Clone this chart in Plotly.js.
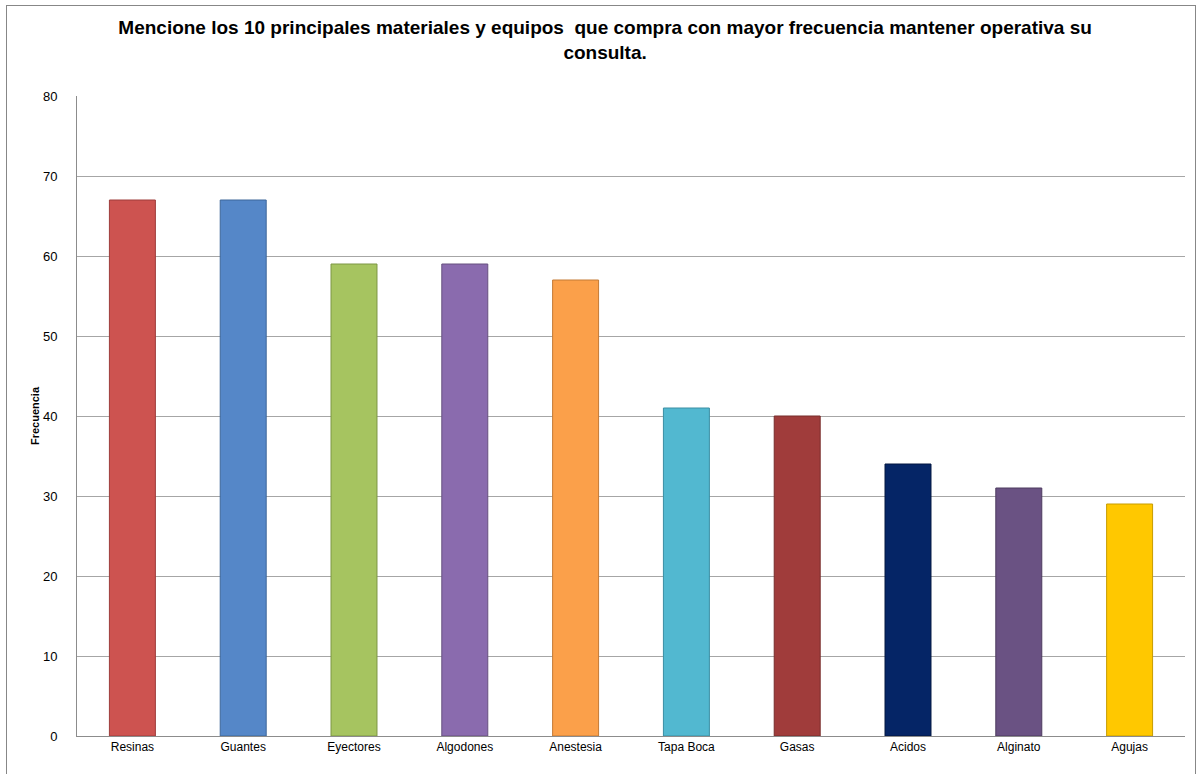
<!DOCTYPE html>
<html><head><meta charset="utf-8">
<script src="https://cdn.plot.ly/plotly-3.0.1.min.js"></script>
<style>
html,body{margin:0;padding:0;background:#fff;overflow:hidden;}
#wrap{position:relative;width:1203px;height:774px;}
#chart{width:1203px;height:774px;}
#frame{position:absolute;left:6px;top:5px;width:1190px;height:800px;border:1px solid #878787;pointer-events:none;box-sizing:border-box;}
</style>
</head><body><div id="wrap"><div id="chart"></div><div id="frame"></div></div>
<script>
const categories = ["Resinas","Guantes","Eyectores","Algodones","Anestesia","Tapa Boca","Gasas","Acidos","Alginato","Agujas"];
const values = [67,67,59,59,57,41,40,34,31,29];
const barColors = ["#CD5350","#5587C8","#A6C460","#8A6BAE","#FBA04A","#52B8D0","#A03C3B","#052566","#6A5283","#FFC800"];
const edgeColors = ["#9E3D3B","#3D6699","#7D9645","#66507F","#C47A35","#3A8EA3","#772C2B","#021640","#4D3B5F","#C79C00"];
const yTicks = [0,10,20,30,40,50,60,70,80];

const trace = {
  type: "bar",
  x: categories,
  y: values,
  marker: {color: barColors, line: {color: edgeColors, width: 1}},
  hoverinfo: "x+y"
};

const L = 77, R = 18, T = 96, B = 38, W = 1203, H = 774;

const layout = {
  width: W, height: H,
  margin: {l: L, r: R, t: T, b: B},
  paper_bgcolor: "#fff", plot_bgcolor: "#fff",
  font: {family: "Liberation Sans, Arial, sans-serif", size: 12, color: "#000"},
  title: {
    text: "<b>Mencione los 10 principales materiales y equipos  que compra con mayor frecuencia mantener operativa su<br>consulta.</b>",
    font: {family: "Liberation Sans, Arial, sans-serif", size: 19, color: "#000"},
    x: 0.503, xanchor: "center", y: 0.956, yanchor: "top"
  },
  bargap: 0.585,
  showlegend: false,
  xaxis: {
    type: "category",
    showgrid: false,
    showline: true, linecolor: "#8C8C8C", linewidth: 1,
    ticks: "", tickfont: {size: 12},
    fixedrange: true
  },
  yaxis: {
    range: [0, 80],
    tickvals: yTicks,
    ticktext: yTicks.map(String),
    showgrid: true, gridcolor: "#A6A6A6", gridwidth: 1,
    showline: true, linecolor: "#8C8C8C", linewidth: 1,
    zeroline: false,
    ticks: "", ticklabelstandoff: 16,
    tickfont: {size: 13},
    title: {text: "<b>Frecuencia</b>", font: {size: 11}, standoff: 1},
    fixedrange: true
  }
};

Plotly.newPlot("chart", [trace], layout, {displayModeBar: false, staticPlot: true});
</script></body></html>
